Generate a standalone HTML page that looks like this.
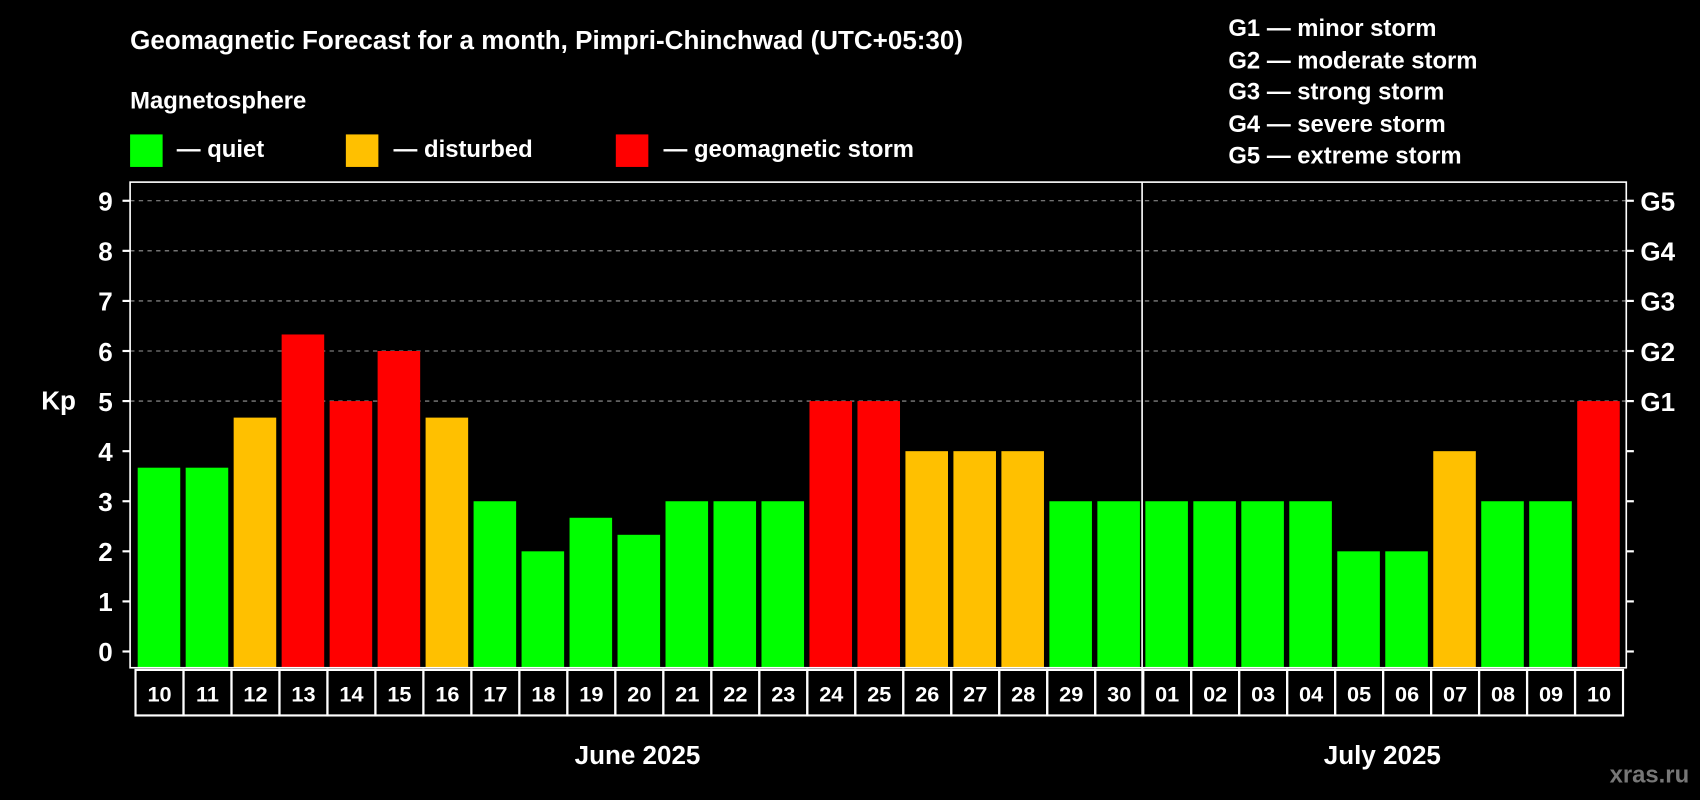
<!DOCTYPE html>
<html><head><meta charset="utf-8"><style>
html,body{margin:0;padding:0;background:#000;}
svg{display:block;font-family:"Liberation Sans",Arial,sans-serif;font-weight:bold;}
</style></head><body>
<svg id="chart" width="1700" height="800" viewBox="0 0 1568 738" preserveAspectRatio="none" xmlns="http://www.w3.org/2000/svg">
<rect width="1568" height="738" fill="#000"/>
<text x="120" y="45" fill="#fff" font-size="24">Geomagnetic Forecast for a month, Pimpri-Chinchwad (UTC+05:30)</text>
<text x="120" y="100" fill="#fff" font-size="22">Magnetosphere</text>
<g><rect x="120" y="124" width="30" height="30" fill="#00ff00"/><text x="163" y="145" fill="#fff" font-size="22">— quiet</text></g>
<g><rect x="319" y="124" width="30" height="30" fill="#ffc000"/><text x="363" y="145" fill="#fff" font-size="22">— disturbed</text></g>
<g><rect x="568" y="124" width="30" height="30" fill="#ff0000"/><text x="612" y="145" fill="#fff" font-size="22">— geomagnetic storm</text></g>
<g fill="#fff" font-size="22">
<text x="1133" y="33">G1 — minor storm</text><text x="1133" y="63">G2 — moderate storm</text><text x="1133" y="92">G3 — strong storm</text><text x="1133" y="122">G4 — severe storm</text><text x="1133" y="151">G5 — extreme storm</text></g>
<text x="38" y="378" fill="#fff" font-size="24">Kp</text>
<g id="grid"></g><g id="bars"></g><g id="axes"></g><g id="labels"></g>
<text x="588" y="705" fill="#fff" font-size="24" text-anchor="middle">June 2025</text>
<text x="1275" y="705" fill="#fff" font-size="24" text-anchor="middle">July 2025</text>
<text x="1558" y="722" fill="#777" font-size="22" text-anchor="end">xras.ru</text>
</svg>
<script>
const days=["10","11","12","13","14","15","16","17","18","19","20","21","22","23","24","25","26","27","28","29","30","01","02","03","04","05","06","07","08","09","10"];
const kp=[3.67,3.67,4.67,6.33,5,6,4.67,3,2,2.67,2.33,3,3,3,5,5,4,4,4,3,3,3,3,3,3,2,2,4,3,3,5];
const yTicks=[0,1,2,3,4,5,6,7,8,9];
const gLabels=["G1","G2","G3","G4","G5"];
const NS="http://www.w3.org/2000/svg";
const L=120,R=1500,T=168,B=616,X0=125,PITCH=(1497-125)/31,Y0=601,UNIT=46.2;
const y=v=>Y0-v*UNIT, x=i=>X0+i*PITCH;
function mk(t,a,p){const e=document.createElementNS(NS,t);for(const k in a)e.setAttribute(k,a[k]);p.appendChild(e);return e;}
const grid=document.getElementById('grid'),bars=document.getElementById('bars'),axes=document.getElementById('axes'),labels=document.getElementById('labels');
gLabels.forEach((g,i)=>{const v=5+i;
 const ln=mk('line',{x1:L,x2:R,y1:y(v),y2:y(v),stroke:'#999','stroke-dasharray':'4,4','stroke-width':1},grid);
 
 
 const t=mk('text',{x:1513,y:y(v)+9,fill:'#fff','font-size':24},axes);t.textContent=g;
 
 });
kp.forEach((v,i)=>{const c=v>=5?'#ff0000':v>=4?'#ffc000':'#00ff00';
 const r=mk('rect',{x:x(i)+2,y:y(v),width:PITCH-5,height:B-y(v),fill:c},bars);
 
 
 const cell=mk('rect',{x:x(i),y:618,width:PITCH,height:42,fill:'none',stroke:'#fff','stroke-width':2},labels);
 
 
 const t=mk('text',{x:x(i)+PITCH/2,y:647,fill:'#fff','font-size':20,'text-anchor':'middle'},labels);t.textContent=days[i];
 
 });
const fr=mk('rect',{x:L,y:T,width:R-L,height:B-T,fill:'none',stroke:'#fff','stroke-width':1.5},axes);


const dv=mk('line',{x1:x(21)-1,x2:x(21)-1,y1:T,y2:660,stroke:'#fff','stroke-width':1.5},axes);


yTicks.forEach(v=>{mk('line',{x1:113,x2:L,y1:y(v),y2:y(v),stroke:'#fff','stroke-width':2},axes);
 mk('line',{x1:R,x2:1507,y1:y(v),y2:y(v),stroke:'#fff','stroke-width':2},axes);
 const t=mk('text',{x:104,y:y(v)+9,fill:'#fff','font-size':24,'text-anchor':'end'},axes);t.textContent=v;
 
 });
</script>
</body></html>
